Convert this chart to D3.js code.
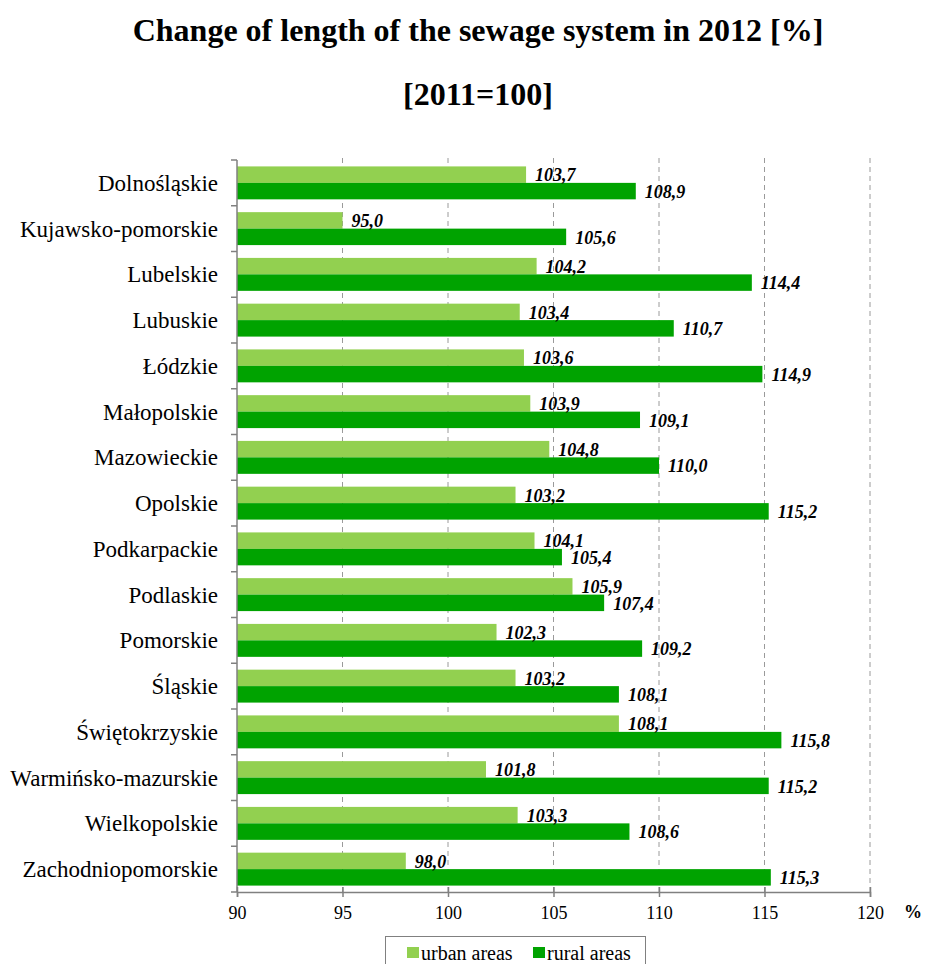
<!DOCTYPE html>
<html>
<head>
<meta charset="utf-8">
<script src="https://cdn.jsdelivr.net/npm/d3@7"></script>
<style>
  html, body { margin: 0; padding: 0; background: #fff; }
  svg { display: block; font-family: "Liberation Serif", "Times New Roman", serif; }
</style>
</head>
<body>
<svg id="chart" width="925" height="964"></svg>
<script>
const regions = [
  "Dolnośląskie", "Kujawsko-pomorskie", "Lubelskie", "Lubuskie", "Łódzkie",
  "Małopolskie", "Mazowieckie", "Opolskie", "Podkarpackie", "Podlaskie",
  "Pomorskie", "Śląskie", "Świętokrzyskie", "Warmińsko-mazurskie",
  "Wielkopolskie", "Zachodniopomorskie"
];
const urbanValues = [103.7, 95.0, 104.2, 103.4, 103.6, 103.9, 104.8, 103.2, 104.1, 105.9, 102.3, 103.2, 108.1, 101.8, 103.3, 98.0];
const ruralValues = [108.9, 105.6, 114.4, 110.7, 114.9, 109.1, 110.0, 115.2, 105.4, 107.4, 109.2, 108.1, 115.8, 115.2, 108.6, 115.3];
const seriesNames = ["urban areas", "rural areas"];
const xTicks = [90, 95, 100, 105, 110, 115, 120];

const colors = { "urban areas": "#92D050", "rural areas": "#00A300" };

const svg = d3.select("#chart");
const margin = { top: 160, left: 237, right: 55, bottom: 72 };
const W = 925, H = 964;
const plotRight = W - margin.right;
const plotBottom = H - margin.bottom;

const x = d3.scaleLinear().domain([90, 120]).range([margin.left, plotRight]);
const y = d3.scaleBand().domain(regions).range([margin.top, plotBottom]).paddingInner(0.28).paddingOuter(0.14);
const ySub = d3.scaleBand().domain(seriesNames).range([0, y.bandwidth()]);

const fmt = v => v.toFixed(1).replace(".", ",");

// Title
svg.append("text").attr("x", 478).attr("y", 41).attr("text-anchor", "middle")
  .attr("font-size", 32).attr("font-weight", "bold")
  .text("Change of length of the sewage system in 2012 [%]");
svg.append("text").attr("x", 478).attr("y", 105).attr("text-anchor", "middle")
  .attr("font-size", 32).attr("font-weight", "bold")
  .text("[2011=100]");

// Dashed vertical gridlines
svg.append("g").selectAll("line").data(xTicks.slice(1)).join("line")
  .attr("x1", d => x(d)).attr("x2", d => x(d))
  .attr("y1", margin.top - 2).attr("y2", plotBottom)
  .attr("stroke", "#9a9a9a").attr("stroke-width", 1)
  .attr("stroke-dasharray", "5,4");

// Bars
const rows = regions.map((r, i) => ({ region: r, values: [
  { key: "urban areas", value: urbanValues[i] },
  { key: "rural areas", value: ruralValues[i] }
]}));

const groups = svg.append("g").selectAll("g").data(rows).join("g")
  .attr("transform", d => `translate(0,${y(d.region)})`);

groups.selectAll("rect").data(d => d.values).join("rect")
  .attr("x", x(90))
  .attr("y", d => ySub(d.key))
  .attr("width", d => x(d.value) - x(90))
  .attr("height", ySub.bandwidth())
  .attr("fill", d => colors[d.key]);

groups.selectAll("text").data(d => d.values).join("text")
  .attr("x", d => x(d.value) + 9)
  .attr("y", d => ySub(d.key) + ySub.bandwidth() - 1.5)
  .attr("font-size", 18).attr("font-weight", "bold").attr("font-style", "italic")
  .attr("fill", "#000")
  .text(d => fmt(d.value));

// Left axis
const yAxisG = svg.append("g").attr("transform", `translate(${margin.left},0)`);
yAxisG.append("line").attr("x1", 0).attr("x2", 0).attr("y1", margin.top).attr("y2", plotBottom)
  .attr("stroke", "#808080").attr("stroke-width", 1.5);
const step = (plotBottom - margin.top) / regions.length;
yAxisG.selectAll("line.tick").data(d3.range(regions.length + 1)).join("line")
  .attr("class", "tick")
  .attr("x1", -6).attr("x2", 0)
  .attr("y1", i => margin.top + i * step).attr("y2", i => margin.top + i * step)
  .attr("stroke", "#808080").attr("stroke-width", 1.5);
yAxisG.selectAll("text").data(regions).join("text")
  .attr("x", -19)
  .attr("y", d => y(d) + y.bandwidth() / 2)
  .attr("dy", "0.35em")
  .attr("text-anchor", "end")
  .attr("font-size", 23)
  .text(d => d);

// Bottom axis, ticks crossing the axis line
const xAxis = d3.axisBottom(x).tickValues(xTicks).tickSize(5).tickPadding(9).tickFormat(d3.format("d"));
const xAxisG = svg.append("g").attr("transform", `translate(0,${plotBottom})`).call(xAxis);
xAxisG.select(".domain").attr("stroke", "#808080").attr("stroke-width", 1.5);
xAxisG.selectAll(".tick line").attr("y1", -5).attr("stroke", "#808080").attr("stroke-width", 1.5);
xAxisG.selectAll(".tick text").attr("font-size", 18).attr("font-family", "Liberation Serif, serif").attr("fill", "#000");
svg.append("text").attr("x", 913).attr("y", 918).attr("text-anchor", "middle")
  .attr("font-size", 18).attr("font-weight", "bold").text("%");

// Legend
const legend = svg.append("g");
legend.append("rect").attr("x", 385.5).attr("y", 936.5).attr("width", 260).attr("height", 40)
  .attr("fill", "#fff").attr("stroke", "#808080").attr("stroke-width", 1);
const legendItems = [
  { key: "urban areas", x: 407 },
  { key: "rural areas", x: 533 }
];
legend.selectAll("rect.sw").data(legendItems).join("rect")
  .attr("class", "sw")
  .attr("x", d => d.x).attr("y", 947).attr("width", 12).attr("height", 11)
  .attr("fill", d => colors[d.key]);
legend.selectAll("text").data(legendItems).join("text")
  .attr("x", d => d.x + 14).attr("y", 960)
  .attr("font-size", 20)
  .text(d => d.key);
</script>
</body>
</html>
